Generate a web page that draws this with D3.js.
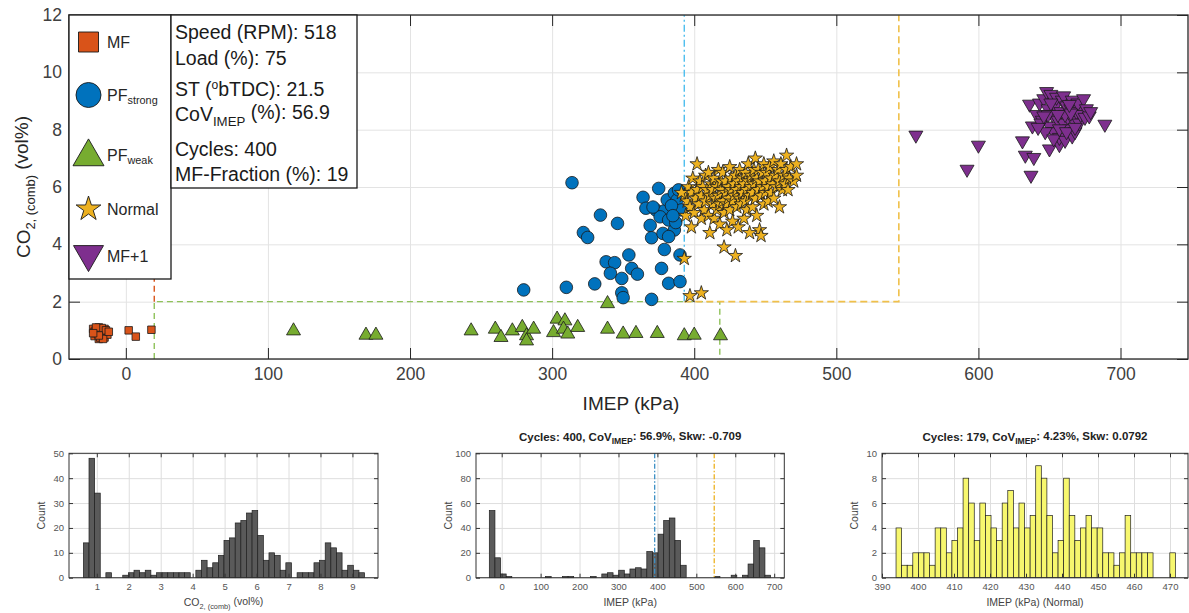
<!DOCTYPE html>
<html><head><meta charset="utf-8">
<script src="https://cdn.jsdelivr.net/npm/d3@7"></script>
<style>body{margin:0;background:#fff}svg{display:block}</style>
</head><body><svg id="c" width="1189" height="613"></svg>
<script>
// ---------------- DATA ----------------
const mfPts = [[-23,1.05],[-22,0.95],[-21,1.0],[-20,0.85],[-19,1.1],[-18,0.9],[-17,0.8],[-16,1.0],[-15,0.75],[-14,0.9],[-22,0.8],[-20,1.05],[-18,1.0],[-16,0.85],[-19,0.7],[-17,0.95],[-21,0.9],[-15,1.05],[-13,0.85],[-18,0.75],[-20,0.95],[-17,1.08],[-16,0.7],[-14,1.0],[-19,0.82],[-21,1.1],[-23,0.9],[-12,0.95],[2,1.0],[7,0.78],[18,1.02]];
const pfWeakPts = [[118,1.01],[169,0.86],[176,0.86],[243,1.01],[260,1.07],[264,0.78],[272,1.01],[279,1.13],[282,0.84],[282,0.66],[287,1.07],[301,0.95],[303.5,1.42],[309,1.36],[308,1.07],[311,0.9],[318,1.13],[339,1.96],[339,1.07],[350,0.9],[359,0.92],[374,0.92],[393,0.84],[400,0.86],[418.5,0.84]];
const pfStrongPts = [[314,6.15],[280,2.41],[310,2.5],[330,2.62],[322,4.41],[325,4.24],[334,5.02],[346,4.73],[338,3.39],[344,3.36],[341,2.99],[354,3.63],[356,3.16],[360,2.96],[349,2.81],[349,2.31],[350,2.14],[370,2.08],[364,5.64],[366,5.26],[375,5.95],[373,5.2],[379,5.17],[381,5.55],[386,5.78],[388,5.55],[369,4.66],[370,4.23],[376,4.96],[378,4.38],[382,4.85],[386,4.5],[382,4.27],[387,4.76],[379,3.82],[377,3.16],[382,2.64],[390,3.63],[390,2.7],[391,5.2],[384,5.35],[389,5.9],[385,5.0],[371,5.3]];
const normalPts = [[393,5.7],[394,5.0],[395,5.5],[396,6.0],[397,5.3],[398,4.6],[398,5.8],[399,6.3],[400,5.1],[401,5.6],[402,6.8],[402,5.9],[403,5.4],[404,6.2],[405,4.9],[405,5.7],[406,6.0],[407,5.2],[408,6.4],[408,5.5],[409,5.9],[410,6.5],[410,5.0],[411,5.7],[411,4.4],[412,6.1],[413,5.4],[413,5.9],[414,6.3],[414,4.9],[415,5.6],[416,6.0],[416,5.2],[417,6.6],[417,5.7],[418,5.4],[418,4.7],[419,6.2],[419,5.9],[420,5.5],[420,6.5],[421,3.9],[421,5.1],[422,5.8],[422,6.2],[423,5.4],[423,4.5],[424,6.0],[424,5.6],[425,6.7],[425,5.2],[426,5.9],[426,6.3],[427,4.8],[427,5.5],[428,6.1],[428,5.7],[429,3.6],[429,6.4],[430,5.3],[430,5.9],[431,6.2],[431,4.6],[432,5.6],[432,6.6],[433,6.0],[433,5.4],[434,6.3],[434,5.8],[435,4.9],[435,6.1],[436,5.5],[436,6.5],[437,5.9],[437,5.2],[438,6.8],[438,6.2],[439,5.7],[439,4.4],[440,6.0],[440,6.4],[441,5.3],[441,5.8],[442,6.6],[442,6.1],[443,7.0],[443,5.6],[444,6.3],[444,5.0],[445,5.9],[445,6.6],[446,4.5],[446,6.2],[447,4.3],[447,5.7],[448,6.5],[448,6.0],[449,5.4],[449,6.8],[450,6.2],[450,5.8],[451,6.5],[452,6.0],[452,5.5],[453,6.7],[454,6.3],[454,5.8],[455,6.1],[456,6.9],[456,5.6],[457,6.4],[458,6.0],[459,6.6],[460,5.3],[460,6.2],[461,6.8],[462,5.9],[463,6.4],[464,6.1],[465,7.1],[465,6.6],[466,5.9],[467,6.3],[468,6.7],[470,6.2],[472,6.8],[472,6.4],[397,2.2],[405,2.3],[393,3.5],[391,5.8]];
const mf1Pts = [[556,7.78],[600,7.43],[592,6.59],[631,7.58],[633,7.08],[639,7.0],[637,6.38],[689,8.16],[636,8.86],[638,8.1],[641,8.5],[643,8.9],[645,8.3],[646,9.05],[648,9.3],[649,8.7],[650,8.1],[650,7.3],[651,9.2],[652,8.5],[653,7.9],[654,8.8],[655,9.1],[656,8.3],[657,7.45],[657,7.7],[658,8.6],[659,9.0],[660,8.2],[660,9.15],[661,7.6],[662,8.8],[663,8.4],[664,8.0],[665,8.7],[666,9.0],[666,7.75],[667,8.3],[668,7.9],[669,8.6],[670,8.9],[671,8.2],[672,8.5],[674,9.05],[675,8.4],[676,8.7],[678,8.45],[679,8.6],[644,8.2],[647,7.9],[649,8.5],[653,7.65],[657,8.0],[661,8.5],[665,8.55],[642,8.05],[646,8.45],[651,8.9],[656,8.5],[662,7.9],[664,8.85],[668,8.05]];

// classification limits (kPa / vol%)
const mfLimit = 20;
const pfWeakBox = [20, 418, 2];
const normalBox = [393, 544, 2];

const mainXTicks = [0,100,200,300,400,500,600,700];
const mainYTicks = [0,2,4,6,8,10,12];
const mainXDomain = [-40, 747.5];
const mainYDomain = [0, 12];

const infoLines = ["Speed (RPM): 518","Load (%): 75","ST (obTDC): 21.5","CoV_IMEP (%): 56.9","Cycles: 400","MF-Fraction (%): 19"];
const legendNames = ["MF","PF_strong","PF_weak","Normal","MF+1"];

// histogram 1: CO2 (comb)
const co2Counts = [14,48,34,0,2,0,0,1,2,3,2,3,1,2,2,2,2,2,2,0,3,7,4,6,9,15,16,22,23,26,27,17,7,10,9,3,6,0,2,2,2,6,7,14,12,10,3,5,3,2];
const co2BinStart = 0.58, co2BinWidth = 0.176;
const co2XDomain = [0.13, 9.8], co2XTicks = [1,2,3,4,5,6,7,8,9];
const co2YTicks = [0,10,20,30,40,50];

// histogram 2: IMEP all cycles
const imepCounts = [54,16,3,1,0,0,0,0,0,0,1,0,0,1,1,0,0,0,1,0,3,4,2,6,3,7,8,7,21,20,35,46,48,30,10,0,0,0,0,0,1,0,0,2,0,2,11,30,24,2];
const imepBinStart = -31.8, imepBinWidth = 14.45;
const imepXDomain = [-66, 726], imepXTicks = [0,100,200,300,400,500,600,700];
const imepYTicks = [0,20,40,60,80,100];

// histogram 3: IMEP normal cycles
const normCounts = [4,1,1,2,2,2,1,4,4,2,3,4,8,6,3,6,5,4,3,6,7,4,6,4,5,9,8,5,2,3,8,5,3,4,5,4,4,2,2,1,2,5,2,2,2,2,0,0,0,2];
const normBinStart = 393.9, normBinWidth = 1.552;
const normXDomain = [390, 475], normXTicks = [390,400,410,420,430,440,450,460,470];
const normYTicks = [0,2,4,6,8,10];

// ---------------- DRAW ----------------
const FONT = "'Liberation Sans', Arial, Helvetica, sans-serif";
const COL = {mf:"#D95319", pfs:"#0072BD", pfw:"#77AC30", nor:"#EDB120", mf1:"#7E2F8E"};
const svg = d3.select("#c").style("font-family", FONT);

function starPath(R){const r=R*0.382;let p="";for(let i=0;i<10;i++){const a=-Math.PI/2+i*Math.PI/5,rr=i%2?r:R;p+=(i?"L":"M")+(rr*Math.cos(a)).toFixed(2)+","+(rr*Math.sin(a)).toFixed(2);}return p+"Z";}
function triUp(w){const h=w*0.866;return `M0,${-h*0.6}L${w/2},${h*0.4}L${-w/2},${h*0.4}Z`;}
function triDown(w){const h=w*0.866;return `M0,${h*0.6}L${w/2},${-h*0.4}L${-w/2},${-h*0.4}Z`;}
function square(s){return `M${-s/2},${-s/2}h${s}v${s}h${-s}Z`;}
function circle(r){return `M${r},0A${r},${r} 0 1,1 ${-r},0A${r},${r} 0 1,1 ${r},0Z`;}

function addRichText(sel, str){
  const m = str.match(/^(.*?)_([A-Za-z]+)(.*)$/);
  if(str.includes("(ob")){
    const [a,b] = str.split("(ob");
    sel.append("tspan").text(a+"(");
    sel.append("tspan").attr("dy",-7).attr("font-size","0.62em").text("o");
    sel.append("tspan").attr("dy",7).text("b"+b);
  } else if(m){
    sel.append("tspan").text(m[1]);
    sel.append("tspan").attr("dy","0.35em").attr("font-size","0.68em").text(m[2]);
    sel.append("tspan").attr("dy","-0.35em").text(m[3]);
  } else sel.text(str);
}

// ---- main chart ----
const L=69,R=1188,T=15,B=359;
const x = d3.scaleLinear().domain(mainXDomain).range([L,R]);
const y = d3.scaleLinear().domain(mainYDomain).range([B,T]);
const main = svg.append("g");

main.append("g").attr("transform",`translate(0,${B})`)
  .call(d3.axisBottom(x).tickValues(mainXTicks).tickSize(-(B-T)).tickFormat(""))
  .call(g=>{g.select(".domain").remove();g.selectAll("line").attr("stroke","#e3e3e3");});
main.append("g").attr("transform",`translate(${L},0)`)
  .call(d3.axisLeft(y).tickValues(mainYTicks).tickSize(-(R-L)).tickFormat(""))
  .call(g=>{g.select(".domain").remove();g.selectAll("line").attr("stroke","#e3e3e3");});

// limit lines
const lineGen = d3.line().x(d=>x(d[0])).y(d=>y(d[1]));
main.append("path").attr("d",lineGen([[mfLimit,pfWeakBox[2]],[mfLimit,mainYDomain[1]]]))
  .attr("fill","none").attr("stroke",COL.mf).attr("stroke-width",1.4).attr("stroke-dasharray","6,4");
main.append("path").attr("d",lineGen([[pfWeakBox[0],0],[pfWeakBox[0],pfWeakBox[2]],[pfWeakBox[1],pfWeakBox[2]],[pfWeakBox[1],0]]))
  .attr("fill","none").attr("stroke","#8fc25a").attr("stroke-width",1.4).attr("stroke-dasharray","6,4");
main.append("path").attr("d",lineGen([[normalBox[0],normalBox[2]],[normalBox[0],mainYDomain[1]]]))
  .attr("fill","none").attr("stroke","#4DBEEE").attr("stroke-width",1.4).attr("stroke-dasharray","7,3,2,3");
main.append("path").attr("d",lineGen([[normalBox[0],normalBox[2]],[normalBox[1],normalBox[2]],[normalBox[1],mainYDomain[1]]]))
  .attr("fill","none").attr("stroke","#F0C04A").attr("stroke-width",1.6).attr("stroke-dasharray","7,4");

function plotPts(data, pathStr, fill){
  main.append("g").selectAll("path").data(data).join("path")
    .attr("transform",d=>`translate(${x(d[0])},${y(d[1])})`)
    .attr("d",pathStr).attr("fill",fill).attr("stroke","#1a1a1a").attr("stroke-width",0.8);
}
plotPts(mfPts, square(7.5), COL.mf);
plotPts(pfWeakPts, triUp(14), COL.pfw);
plotPts(pfStrongPts, circle(6.3), COL.pfs);
plotPts(normalPts, starPath(7.5), COL.nor);
plotPts(mf1Pts, triDown(14), COL.mf1);

// axes ticks and labels
const tickStyle = g=>{g.select(".domain").remove();g.selectAll("line").attr("stroke","#262626");g.selectAll("text").attr("fill","#404040").attr("font-family",FONT).attr("font-size","17.5px");};
main.append("g").attr("transform",`translate(0,${B})`).call(d3.axisBottom(x).tickValues(mainXTicks).tickSize(-11).tickPadding(9)).call(tickStyle);
main.append("g").attr("transform",`translate(0,${T})`).call(d3.axisTop(x).tickValues(mainXTicks).tickSize(-11).tickFormat("")).call(tickStyle);
main.append("g").attr("transform",`translate(${L},0)`).call(d3.axisLeft(y).tickValues(mainYTicks).tickSize(-11).tickPadding(7)).call(tickStyle);
main.append("g").attr("transform",`translate(${R},0)`).call(d3.axisRight(y).tickValues(mainYTicks).tickSize(-11).tickFormat("")).call(tickStyle);
main.append("rect").attr("x",L).attr("y",T).attr("width",R-L).attr("height",B-T).attr("fill","none").attr("stroke","#262626").attr("stroke-width",1.3);

main.append("text").attr("x",631).attr("y",410).attr("text-anchor","middle").attr("font-size","19px").attr("fill","#262626").text("IMEP (kPa)");
const yl = main.append("text").attr("transform","translate(30,187) rotate(-90)").attr("text-anchor","middle").attr("font-size","19px").attr("fill","#262626");
yl.append("tspan").text("CO");
yl.append("tspan").attr("dy","0.35em").attr("font-size","0.68em").text("2, (comb)");
yl.append("tspan").attr("dy","-0.35em").text(" (vol%)");

// legend
const leg = svg.append("g");
leg.append("rect").attr("x",L).attr("y",T).attr("width",102).attr("height",264).attr("fill","#fff").attr("stroke","#1a1a1a").attr("stroke-width",1.3);
const legShapes = [square(20), circle(12.5), triUp(31), starPath(13), triDown(30)];
const legCols = [COL.mf, COL.pfs, COL.pfw, COL.nor, COL.mf1];
const legY = [42, 95, 155, 209, 256];
legendNames.forEach((n,i)=>{
  leg.append("path").attr("transform",`translate(88.5,${legY[i]})`).attr("d",legShapes[i]).attr("fill",legCols[i]).attr("stroke","#1a1a1a").attr("stroke-width",0.9);
  const t = leg.append("text").attr("x",107).attr("y",legY[i]+5.5).attr("font-size","16px").attr("fill","#262626");
  addRichText(t, n);
});

// info box
const info = svg.append("g");
info.append("rect").attr("x",171).attr("y",T).attr("width",186).attr("height",173).attr("fill","#fff").attr("stroke","#1a1a1a").attr("stroke-width",1.3);
const infoY = [39, 65, 96, 121, 156, 181];
infoLines.forEach((s,i)=>{
  const t = info.append("text").attr("x",175).attr("y",infoY[i]).attr("font-size","19.5px").attr("fill","#1a1a1a");
  addRichText(t, s);
});

// ---- histograms ----
function hist(o){
  const hx = d3.scaleLinear().domain(o.xDomain).range([o.l,o.r]);
  const hy = d3.scaleLinear().domain([0,o.yTicks[o.yTicks.length-1]]).range([577.7,453.3]);
  const g = svg.append("g");
  const t0=453.3,b0=577.7;
  g.append("g").attr("transform",`translate(0,${b0})`).call(d3.axisBottom(hx).tickValues(o.xTicks).tickSize(-(b0-t0)).tickFormat(""))
    .call(a=>{a.select(".domain").remove();a.selectAll("line").attr("stroke","#dedede");});
  g.append("g").attr("transform",`translate(${o.l},0)`).call(d3.axisLeft(hy).tickValues(o.yTicks).tickSize(-(o.r-o.l)).tickFormat(""))
    .call(a=>{a.select(".domain").remove();a.selectAll("line").attr("stroke","#dedede");});
  const bins = o.counts.map((c,i)=>({x0:o.start+i*o.w, x1:o.start+(i+1)*o.w, c})).filter(d=>d.c>0);
  g.append("g").selectAll("rect").data(bins).join("rect")
    .attr("x",d=>hx(d.x0)).attr("width",d=>hx(d.x1)-hx(d.x0)).attr("y",d=>hy(d.c)).attr("height",d=>hy(0)-hy(d.c))
    .attr("fill",o.fill).attr("stroke","#1f1f1f").attr("stroke-width",0.7);
  (o.vlines||[]).forEach(v=>{
    g.append("line").attr("x1",hx(v[0])).attr("x2",hx(v[0])).attr("y1",t0).attr("y2",b0).attr("stroke",v[1]).attr("stroke-width",1.3).attr("stroke-dasharray","5,2,1.5,2");
  });
  const ts = a=>{a.select(".domain").remove();a.selectAll("line").attr("stroke","#333");a.selectAll("text").attr("fill","#555").attr("font-family",FONT).attr("font-size","9.5px");};
  g.append("g").attr("transform",`translate(0,${b0})`).call(d3.axisBottom(hx).tickValues(o.xTicks).tickSize(-4).tickPadding(6)).call(ts);
  g.append("g").attr("transform",`translate(0,${t0})`).call(d3.axisTop(hx).tickValues(o.xTicks).tickSize(-4).tickFormat("")).call(ts);
  g.append("g").attr("transform",`translate(${o.l},0)`).call(d3.axisLeft(hy).tickValues(o.yTicks).tickSize(-4).tickPadding(5)).call(ts);
  g.append("g").attr("transform",`translate(${o.r},0)`).call(d3.axisRight(hy).tickValues(o.yTicks).tickSize(-4).tickFormat("")).call(ts);
  g.append("rect").attr("x",o.l).attr("y",t0).attr("width",o.r-o.l).attr("height",b0-t0).attr("fill","none").attr("stroke","#333").attr("stroke-width",1);
  g.append("text").attr("transform",`translate(${o.l-24},${(t0+b0)/2}) rotate(-90)`).attr("text-anchor","middle").attr("font-size","10.5px").attr("fill","#444").text("Count");
  const xl = g.append("text").attr("x",(o.l+o.r)/2).attr("y",606).attr("text-anchor","middle").attr("font-size","10.5px").attr("fill","#444");
  if(o.xLabelSub){xl.append("tspan").text("CO");xl.append("tspan").attr("dy","0.35em").attr("font-size","0.7em").text("2, (comb)");xl.append("tspan").attr("dy","-0.35em").text(" (vol%)");}
  else xl.text(o.xLabel);
  if(o.title){
    const tt = g.append("text").attr("x",(o.l+o.r)/2).attr("y",441).attr("text-anchor","middle").attr("font-size","11.5px").attr("font-weight","bold").attr("fill","#222");
    tt.append("tspan").text(o.title[0]);
    tt.append("tspan").attr("dy","0.35em").attr("font-size","0.75em").text("IMEP");
    tt.append("tspan").attr("dy","-0.35em").text(o.title[1]);
  }
}
hist({l:69,r:378,xDomain:co2XDomain,xTicks:co2XTicks,yTicks:co2YTicks,counts:co2Counts,start:co2BinStart,w:co2BinWidth,fill:"#5a5a5a",xLabelSub:true});
hist({l:476,r:784.3,xDomain:imepXDomain,xTicks:imepXTicks,yTicks:imepYTicks,counts:imepCounts,start:imepBinStart,w:imepBinWidth,fill:"#5a5a5a",xLabel:"IMEP (kPa)",
  vlines:[[normalBox[0],"#3d8fc4"],[normalBox[1]+2,"#EDB120"]],title:["Cycles: 400, CoV",": 56.9%, Skw: -0.709"]});
hist({l:882,r:1188,xDomain:normXDomain,xTicks:normXTicks,yTicks:normYTicks,counts:normCounts,start:normBinStart,w:normBinWidth,fill:"#f7f76e",xLabel:"IMEP (kPa) (Normal)",
  title:["Cycles: 179, CoV",": 4.23%, Skw: 0.0792"]});
</script></body></html>
